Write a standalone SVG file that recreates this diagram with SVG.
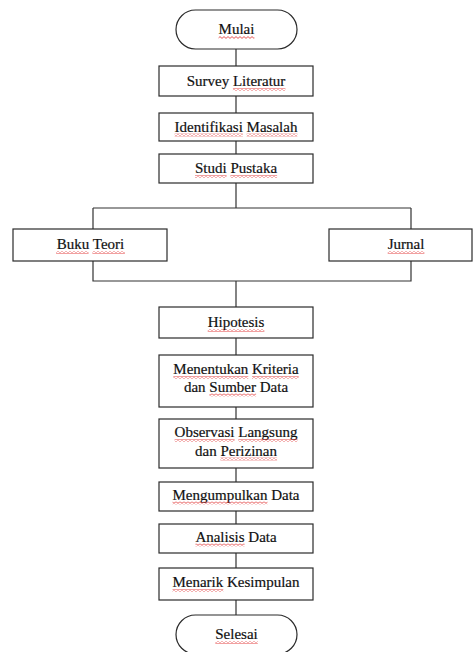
<svg xmlns="http://www.w3.org/2000/svg" width="474" height="652" viewBox="0 0 474 652">
<style>
.b{fill:#fff;stroke:#2b2b2b;stroke-width:1.2}
.c{fill:none;stroke:#333;stroke-width:1.2}
text{font-size:15px;fill:#111;stroke:#111;stroke-width:0.2;text-anchor:middle}
.u{fill:url(#wave)}
</style>
<defs>
<pattern id="wave" patternUnits="userSpaceOnUse" width="4" height="3">
<path d="M0 0.6L2 2.4L4 0.6" fill="none" stroke="#e02828" stroke-width="0.8"/>
</pattern>
</defs>
<rect width="474" height="652" fill="#fff"/>
<g id="connectors">
<path class="c" d="M236 49V66M236 96V113M236 141V154M236 183V208M93 208H411M93 208V229M411 208V229M93 261V281H411V261M236 281V307M236 338V355M236 407V419M236 468V482M236 511V524M236 553V568M236 600V615"/>
</g>
<g font-family="Liberation Serif, Times New Roman, serif">
<g id="mulai"><rect class="b" x="176" y="10" width="121" height="39" rx="19.5"/><text x="236.5" y="34">Mulai</text><rect class="u" x="218.6" y="36" width="35.8" height="3"/></g>
<g id="survey"><rect class="b" x="159" y="66" width="154" height="30"/><text x="236" y="86">Survey Literatur</text><rect class="u" x="232.9" y="88" width="52.5" height="3"/></g>
<g id="identifikasi"><rect class="b" x="159" y="113" width="154" height="28"/><text x="236" y="131.5">Identifikasi Masalah</text><rect class="u" x="174.6" y="133.5" width="68.3" height="3"/><rect class="u" x="246.6" y="133.5" width="50.8" height="3"/></g>
<g id="studi"><rect class="b" x="159" y="154" width="154" height="29"/><text x="236" y="173">Studi Pustaka</text><rect class="u" x="195" y="175" width="31.6" height="3"/><rect class="u" x="230.4" y="175" width="46.7" height="3"/></g>
<g id="buku"><rect class="b" x="13" y="229" width="154" height="32"/><text x="90.5" y="249">Buku Teori</text><rect class="u" x="56.1" y="251" width="32.5" height="3"/><rect class="u" x="92.4" y="251" width="32.5" height="3"/></g>
<g id="jurnal"><rect class="b" x="329" y="229" width="143" height="32"/><text x="406" y="249">Jurnal</text><rect class="u" x="387.7" y="251" width="36.7" height="3"/></g>
<g id="hipotesis"><rect class="b" x="159" y="307" width="154" height="31"/><text x="236" y="327">Hipotesis</text><rect class="u" x="207.7" y="329" width="56.7" height="3"/></g>
<g id="menentukan"><rect class="b" x="159" y="355" width="154" height="52"/><text x="236" y="374">Menentukan Kriteria</text><text x="236" y="391.5">dan Sumber Data</text><rect class="u" x="173.3" y="376" width="75" height="3"/><rect class="u" x="252" y="376" width="46.7" height="3"/><rect class="u" x="209.4" y="393.5" width="46.7" height="3"/></g>
<g id="observasi"><rect class="b" x="159" y="419" width="154" height="49"/><text x="236" y="437">Observasi Langsung</text><text x="236" y="455.5">dan Perizinan</text><rect class="u" x="174.6" y="439" width="60" height="3"/><rect class="u" x="238.3" y="439" width="59.2" height="3"/><rect class="u" x="220.4" y="457.5" width="56.7" height="3"/></g>
<g id="mengumpulkan"><rect class="b" x="159" y="482" width="154" height="29"/><text x="236" y="499.5">Mengumpulkan Data</text><rect class="u" x="172.5" y="501.5" width="95" height="3"/></g>
<g id="analisis"><rect class="b" x="159" y="524" width="154" height="29"/><text x="236" y="541.5">Analisis Data</text><rect class="u" x="195.4" y="543.5" width="49.2" height="3"/></g>
<g id="menarik"><rect class="b" x="159" y="568" width="154" height="32"/><text x="236" y="587">Menarik Kesimpulan</text><rect class="u" x="172.5" y="589" width="50.8" height="3"/></g>
<g id="selesai"><rect class="b" x="176" y="615" width="121" height="39" rx="19.5"/><text x="236.5" y="639">Selesai</text><rect class="u" x="215.3" y="641" width="42.5" height="3"/></g>
</g>
</svg>
